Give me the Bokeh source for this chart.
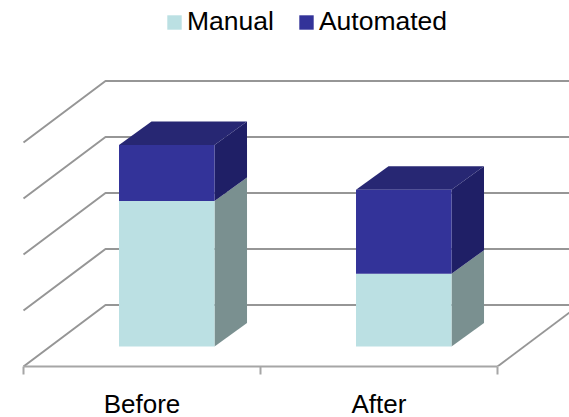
from bokeh.plotting import figure
from bokeh.models import Range1d, FixedTicker, Legend, LegendItem
from bokeh.embed import file_html
from bokeh.resources import INLINE

categories = ["Before", "After"]
manual = [2.6, 1.3]
automated = [1.0, 1.5]
grid_values = [0, 1, 2, 3, 4]
legend_labels = ["Manual", "Automated"]

MANUAL_FRONT = "#bbe0e3"
MANUAL_SIDE = "#7a9090"
AUTO_FRONT = "#333399"
AUTO_TOP = "#272773"
AUTO_SIDE = "#1f1f66"
GRID = "#969696"
AXIS = "#a6a6a6"

# oblique projection constants in data units
WALL_DX, WALL_DY = 82 / 237, 61.5 / 56
BAR_DX, BAR_DY = 32.5 / 237, 23.5 / 56
BASE_Y = 20 / 56
BAR_LEFT, BAR_RIGHT = 0.403, 0.806

p = figure(width=569, height=417, frame_width=569, frame_height=366,
           output_backend="svg", toolbar_location=None,
           x_range=Range1d(-23 / 237, 546 / 237), y_range=Range1d(0, 366 / 56),
           min_border=0, outline_line_color=None, background_fill_color="white")
p.grid.visible = False
p.yaxis.visible = False

# wall grid lines and oblique wall lines
for v in grid_values:
    p.line([0, WALL_DX, 2 + WALL_DX], [v, v + WALL_DY, v + WALL_DY], line_color=GRID, line_width=2)
p.line([2, 2 + WALL_DX], [0, WALL_DY], line_color=GRID, line_width=2)

renderers = {}
for i, (m, a) in enumerate(zip(manual, automated)):
    l, r = i + BAR_LEFT, i + BAR_RIGHT
    y0, y1, y2 = BASE_Y, BASE_Y + m, BASE_Y + m + a
    p.patch([r, r + BAR_DX, r + BAR_DX, r], [y0, y0 + BAR_DY, y1 + BAR_DY, y1], color=MANUAL_SIDE, line_width=0)
    p.patch([r, r + BAR_DX, r + BAR_DX, r], [y1, y1 + BAR_DY, y2 + BAR_DY, y2], color=AUTO_SIDE, line_width=0)
    p.patch([l, l + BAR_DX, r + BAR_DX, r], [y2, y2 + BAR_DY, y2 + BAR_DY, y2], color=AUTO_TOP, line_width=0)
    renderers["m"] = p.quad(left=l, right=r, bottom=y0, top=y1, color=MANUAL_FRONT, line_width=0)
    renderers["a"] = p.quad(left=l, right=r, bottom=y1, top=y2, color=AUTO_FRONT, line_width=0)

# category axis: labels at centres, ticks at the edges
ax = p.xaxis[0]
ax.ticker = FixedTicker(ticks=[0.5, 1.5], minor_ticks=[0, 1, 2])
ax.major_label_overrides = {0.5: categories[0], 1.5: categories[1]}
ax.bounds = (0, 2)
ax.axis_line_color = AXIS
ax.axis_line_width = 2
ax.major_tick_line_color = None
ax.major_tick_in = 0
ax.major_tick_out = 0
ax.minor_tick_line_color = AXIS
ax.minor_tick_line_width = 2
ax.minor_tick_in = 0
ax.minor_tick_out = 8
ax.major_label_standoff = 14
ax.major_label_text_font = "Liberation Sans"
ax.major_label_text_font_size = "26px"
ax.major_label_text_color = "black"

legend = Legend(items=[LegendItem(label=legend_labels[0], renderers=[renderers["m"]]),
                       LegendItem(label=legend_labels[1], renderers=[renderers["a"]])],
                orientation="horizontal", location=(165, 329), background_fill_alpha=0,
                border_line_color=None, label_text_font="Liberation Sans", label_text_font_size="26.5px",
                label_text_color="black", glyph_width=18, glyph_height=18, spacing=23, label_standoff=4,
                margin=0, padding=0)
p.add_layout(legend, "center")

open("out.html", "w").write(file_html(p, INLINE))
